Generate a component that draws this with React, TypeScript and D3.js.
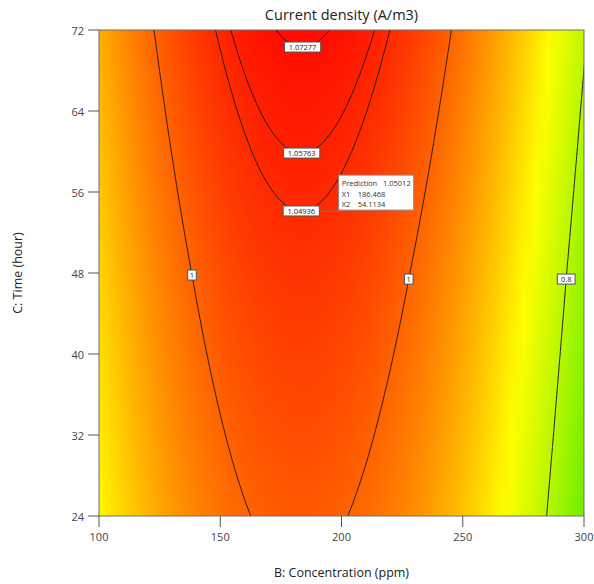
import React from "react";
import * as d3 from "d3";

// axes
const concentrationRange = [100, 300];
const timeRange = [24, 72];
const xTicks = [100, 150, 200, 250, 300];
const yTicks = [24, 32, 40, 48, 56, 64, 72];

// response surface: ridge height / position along C, curvature along B
const ridgeTime = [24, 48, 72];
const ridgePeak = [1.008, 1.0405, 1.0752];
const ridgeCenter = [182.6, 183.2, 184];
const curvatureB = 2.0e-5;

// contour lines and their labels
const contourLevels = [0.8, 1, 1.04936, 1.05763, 1.07277];
const labelTexts = ["1.07277", "1.05763", "1.04936", "1", "1", "0.8"];
const labelLevels = [1.07277, 1.05763, 1.04936, 1, 1, 0.8];
const labelSides = ["ridge", "ridge", "ridge", "left", "right", "right"];
const labelTimes = [0, 0, 0, 47.8, 47.4, 47.4];

// flagged prediction point
const predictionPoint = [186.468, 54.1134];
const predictionValue = "1.05012";

// Design-Expert style colour ramp
const colorStops = [0.647, 0.866, 1.085];
const colorRange = ["#10e400", "#ffff00", "#ff0000"];

const W = 594, H = 584;
const left = 99, right = 584, top = 30, bottom = 516;
const font = "'Open Sans', 'Noto Sans', sans-serif";

const peakAt = d3.scaleLinear().domain(ridgeTime).range(ridgePeak);
const centerAt = d3.scaleLinear().domain(ridgeTime).range(ridgeCenter);
const surface = (b: number, c: number) => peakAt(c) - curvatureB * (b - centerAt(c)) ** 2;

export default function App() {
  const x = d3.scaleLinear().domain(concentrationRange).range([left, right]);
  const y = d3.scaleLinear().domain(timeRange).range([bottom, top]);
  const color = d3.scaleLinear<string>().domain(colorStops).range(colorRange).clamp(true);

  // heat map rows, each a horizontal gradient
  const rowH = 3;
  const nRows = Math.ceil((bottom - top) / rowH);
  const stopsB = d3.range(concentrationRange[0], concentrationRange[1] + 0.01, 5);
  const rows = d3.range(nRows).map(i => {
    const py = top + i * rowH;
    const c = y.invert(py + rowH / 2);
    return {
      py,
      stops: stopsB.map(b => ({ off: (b - concentrationRange[0]) / (concentrationRange[1] - concentrationRange[0]), col: color(surface(b, c)) })),
    };
  });

  // contour grid, extended past the plot so the polygon borders are clipped away
  const gB = d3.range(90, 310.01, 1);
  const gC = d3.range(76, 19.99, -0.25);
  const n = gB.length, m = gC.length;
  const values = new Array(n * m);
  for (let j = 0; j < m; j++) for (let i = 0; i < n; i++) values[j * n + i] = surface(gB[i], gC[j]);
  const contours = d3.contours().size([n, m]).thresholds(contourLevels)(values);
  const proj = d3.geoTransform({
    point(px: number, py: number) {
      this.stream.point(x(90 + (px - 0.5) * 1), y(76 - (py - 0.5) * 0.25));
    },
  });
  const path = d3.geoPath(proj);

  // label positions
  const labels = labelTexts.map((t, k) => {
    const lvl = labelLevels[k];
    let b: number, c: number;
    if (labelSides[k] === "ridge") {
      c = peakAt.invert(lvl);
      b = centerAt(c);
    } else {
      c = labelTimes[k];
      const w = Math.sqrt((peakAt(c) - lvl) / curvatureB);
      b = centerAt(c) + (labelSides[k] === "left" ? -w : w);
    }
    return { t, px: x(b), py: y(c), w: t.length * 4.6 + 4 };
  });

  const ppx = x(predictionPoint[0]), ppy = y(predictionPoint[1]);
  const boxX = ppx + 30, boxY = ppy - 36;

  return (
    <svg width={W} height={H} style={{ position: "absolute", left: 0, top: 0, background: "#fff" }} fontFamily={font}>
      <defs>
        {rows.map((r, i) => (
          <linearGradient key={i} id={`row${i}`} x1="0" x2="1" y1="0" y2="0">
            {r.stops.map((s, k) => <stop key={k} offset={s.off} stopColor={s.col} />)}
          </linearGradient>
        ))}
        <clipPath id="plotClip">
          <rect x={left} y={top} width={right - left} height={bottom - top} />
        </clipPath>
      </defs>

      <g clipPath="url(#plotClip)">
        {rows.map((r, i) => (
          <rect key={i} x={left} y={r.py} width={right - left} height={rowH + 0.6} fill={`url(#row${i})`} />
        ))}
        {contours.map((c, i) => (
          <path key={i} d={path(c as any) || ""} fill="none" stroke="#2b1a14" strokeWidth={1} />
        ))}
      </g>

      <rect x={left} y={top} width={right - left} height={bottom - top} fill="none" stroke="#6e6e6e" strokeWidth={1} />

      {/* x axis */}
      {xTicks.map(t => (
        <g key={t}>
          <line x1={x(t)} x2={x(t)} y1={bottom} y2={bottom + 11} stroke="#555" />
          <text x={x(t)} y={541} textAnchor="middle" fontSize={11} fill="#444">{t}</text>
        </g>
      ))}
      {/* y axis */}
      {yTicks.map(t => (
        <g key={t}>
          <line x1={left - 11} x2={left} y1={y(t)} y2={y(t)} stroke="#555" />
          <text x={84} y={y(t)} textAnchor="end" dominantBaseline="central" fontSize={11} fill="#444">{t}</text>
        </g>
      ))}

      <text x={(left + right) / 2} y={20} textAnchor="middle" fontSize={14.5} fill="#222">Current density (A/m3)</text>
      <text x={(left + right) / 2} y={577} textAnchor="middle" fontSize={12.5} fill="#222">B: Concentration (ppm)</text>
      <text transform={`translate(22,${(top + bottom) / 2}) rotate(-90)`} textAnchor="middle" fontSize={12.5} fill="#222">C: Time (hour)</text>

      {/* prediction flag */}
      <line x1={ppx} y1={ppy} x2={boxX} y2={ppy} stroke="#777" />
      <rect x={boxX} y={boxY} width={75} height={35} fill="#fff" stroke="#888" />
      <g fontSize={7.5} fill="#333">
        <text x={boxX + 3} y={boxY + 11}>Prediction</text>
        <text x={boxX + 72} y={boxY + 11} textAnchor="end">{predictionValue}</text>
        <text x={boxX + 3} y={boxY + 22}>X1</text>
        <text x={boxX + 19} y={boxY + 22}>{predictionPoint[0]}</text>
        <text x={boxX + 3} y={boxY + 32}>X2</text>
        <text x={boxX + 19} y={boxY + 32}>{predictionPoint[1]}</text>
      </g>

      {/* contour labels */}
      {labels.map((l, i) => (
        <g key={i}>
          <rect x={l.px - l.w / 2} y={l.py - 5} width={l.w} height={10} fill="#fff" stroke="#555" strokeWidth={1} />
          <text x={l.px} y={l.py} textAnchor="middle" dominantBaseline="central" fontSize={7.5} fill="#222">{l.t}</text>
        </g>
      ))}
    </svg>
  );
}
